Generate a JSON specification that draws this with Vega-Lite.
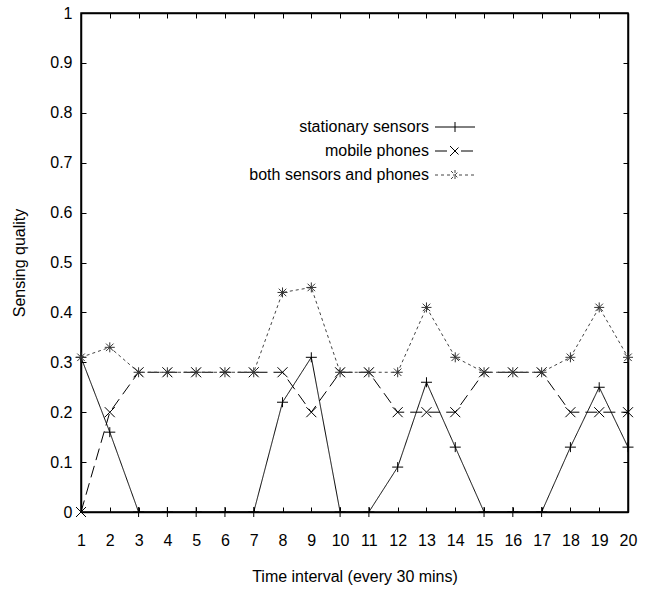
{
  "$schema": "https://vega.github.io/schema/vega-lite/v6.json",
  "width": 547,
  "height": 499,
  "autosize": "none",
  "padding": {"left": 81, "top": 13, "right": 26, "bottom": 79},
  "background": "white",
  "config": {"view": {"stroke": "black", "strokeWidth": 1.5}, "font": "Liberation Sans"},
  "data": {"values": [
    {"t":1,"q":0.31,"series":"stationary sensors"},{"t":2,"q":0.16,"series":"stationary sensors"},{"t":3,"q":0,"series":"stationary sensors"},{"t":4,"q":0,"series":"stationary sensors"},{"t":5,"q":0,"series":"stationary sensors"},{"t":6,"q":0,"series":"stationary sensors"},{"t":7,"q":0,"series":"stationary sensors"},{"t":8,"q":0.22,"series":"stationary sensors"},{"t":9,"q":0.31,"series":"stationary sensors"},{"t":10,"q":0,"series":"stationary sensors"},{"t":11,"q":0,"series":"stationary sensors"},{"t":12,"q":0.09,"series":"stationary sensors"},{"t":13,"q":0.26,"series":"stationary sensors"},{"t":14,"q":0.13,"series":"stationary sensors"},{"t":15,"q":0,"series":"stationary sensors"},{"t":16,"q":0,"series":"stationary sensors"},{"t":17,"q":0,"series":"stationary sensors"},{"t":18,"q":0.13,"series":"stationary sensors"},{"t":19,"q":0.25,"series":"stationary sensors"},{"t":20,"q":0.13,"series":"stationary sensors"},
    {"t":1,"q":0,"series":"mobile phones"},{"t":2,"q":0.2,"series":"mobile phones"},{"t":3,"q":0.28,"series":"mobile phones"},{"t":4,"q":0.28,"series":"mobile phones"},{"t":5,"q":0.28,"series":"mobile phones"},{"t":6,"q":0.28,"series":"mobile phones"},{"t":7,"q":0.28,"series":"mobile phones"},{"t":8,"q":0.28,"series":"mobile phones"},{"t":9,"q":0.2,"series":"mobile phones"},{"t":10,"q":0.28,"series":"mobile phones"},{"t":11,"q":0.28,"series":"mobile phones"},{"t":12,"q":0.2,"series":"mobile phones"},{"t":13,"q":0.2,"series":"mobile phones"},{"t":14,"q":0.2,"series":"mobile phones"},{"t":15,"q":0.28,"series":"mobile phones"},{"t":16,"q":0.28,"series":"mobile phones"},{"t":17,"q":0.28,"series":"mobile phones"},{"t":18,"q":0.2,"series":"mobile phones"},{"t":19,"q":0.2,"series":"mobile phones"},{"t":20,"q":0.2,"series":"mobile phones"},
    {"t":1,"q":0.31,"series":"both sensors and phones"},{"t":2,"q":0.33,"series":"both sensors and phones"},{"t":3,"q":0.28,"series":"both sensors and phones"},{"t":4,"q":0.28,"series":"both sensors and phones"},{"t":5,"q":0.28,"series":"both sensors and phones"},{"t":6,"q":0.28,"series":"both sensors and phones"},{"t":7,"q":0.28,"series":"both sensors and phones"},{"t":8,"q":0.44,"series":"both sensors and phones"},{"t":9,"q":0.45,"series":"both sensors and phones"},{"t":10,"q":0.28,"series":"both sensors and phones"},{"t":11,"q":0.28,"series":"both sensors and phones"},{"t":12,"q":0.28,"series":"both sensors and phones"},{"t":13,"q":0.41,"series":"both sensors and phones"},{"t":14,"q":0.31,"series":"both sensors and phones"},{"t":15,"q":0.28,"series":"both sensors and phones"},{"t":16,"q":0.28,"series":"both sensors and phones"},{"t":17,"q":0.28,"series":"both sensors and phones"},{"t":18,"q":0.31,"series":"both sensors and phones"},{"t":19,"q":0.41,"series":"both sensors and phones"},{"t":20,"q":0.31,"series":"both sensors and phones"}
  ]},
  "layer": [
    {
      "mark": {"type": "line", "strokeWidth": 1},
      "encoding": {
        "x": {"field": "t", "type": "quantitative",
          "scale": {"domain": [1, 20], "nice": false, "zero": false},
          "axis": {"orient": "bottom", "values": [1,2,3,4,5,6,7,8,9,10,11,12,13,14,15,16,17,18,19,20],
            "title": "Time interval (every 30 mins)", "grid": false, "tickSize": -5, "labelPadding": 25, "labelFlush": false, "labelOverlap": false,
            "labelFontSize": 16, "labelFont": "Liberation Sans", "titleFontSize": 16, "titleFont": "Liberation Sans", "titleFontWeight": "normal", "titlePadding": 20,
            "domainColor": "black", "domainWidth": 1.5, "tickColor": "black", "labelColor": "black", "titleColor": "black"}},
        "y": {"field": "q", "type": "quantitative",
          "scale": {"domain": [0, 1], "nice": false},
          "axis": {"orient": "left", "values": [0,0.1,0.2,0.3,0.4,0.5,0.6,0.7,0.8,0.9,1], "format": "~g",
            "title": "Sensing quality", "grid": false, "tickSize": -5, "labelPadding": 14, "labelFlush": false, "labelOverlap": false,
            "labelFontSize": 16, "labelFont": "Liberation Sans", "titleFontSize": 16, "titleFont": "Liberation Sans", "titleFontWeight": "normal", "titlePadding": 22,
            "domainColor": "black", "domainWidth": 1.5, "tickColor": "black", "labelColor": "black", "titleColor": "black"}},
        "strokeDash": {"field": "series", "type": "nominal",
          "scale": {"domain": ["stationary sensors", "mobile phones", "both sensors and phones"], "range": [[1, 0], [12, 6], [3, 3]]},
          "legend": {"title": null, "orient": "none", "legendX": 366, "legendY": 106, "labelAlign": "right", "labelOffset": -34, "labelLimit": 0,
            "labelFontSize": 16, "labelFont": "Liberation Sans", "labelColor": "black", "symbolSize": 100, "symbolStrokeWidth": 1, "rowPadding": 8,
            "encode": {"symbols": {"update": {"shape": {"signal": "datum.value === 'stationary sensors' ? 'M-4,0L4,0M0,-1L0,1' : datum.value === 'mobile phones' ? 'M-4,0L-1.2,0M1.2,0L4,0M-1,-1L1,1M-1,1L1,-1' : 'M-4,0L4,0M0,-1L0,1M-0.8,-0.8L0.8,0.8M-0.8,0.8L0.8,-0.8'"}}}}}},
        "color": {"field": "series", "type": "nominal",
          "scale": {"domain": ["stationary sensors", "mobile phones", "both sensors and phones"], "range": ["black", "black", "#444444"]},
          "legend": {"title": null, "orient": "none", "legendX": 366, "legendY": 106, "labelAlign": "right", "labelOffset": -34, "labelLimit": 0,
            "labelFontSize": 16, "labelFont": "Liberation Sans", "labelColor": "black", "symbolSize": 100, "symbolStrokeWidth": 1, "rowPadding": 8,
            "encode": {"symbols": {"update": {"shape": {"signal": "datum.value === 'stationary sensors' ? 'M-4,0L4,0M0,-1L0,1' : datum.value === 'mobile phones' ? 'M-4,0L-1.2,0M1.2,0L4,0M-1,-1L1,1M-1,1L1,-1' : 'M-4,0L4,0M0,-1L0,1M-0.8,-0.8L0.8,0.8M-0.8,0.8L0.8,-0.8'"}}}}}}
      }
    },
    {
      "transform": [{"filter": "datum.series === 'stationary sensors'"}],
      "mark": {"type": "point", "filled": false, "size": 100, "strokeWidth": 1, "opacity": 1, "stroke": "black", "shape": "M-1.1,0L1.1,0M0,-1L0,1"},
      "encoding": {
        "x": {"field": "t", "type": "quantitative",
          "axis": {"orient": "top", "values": [1,2,3,4,5,6,7,8,9,10,11,12,13,14,15,16,17,18,19,20], "labels": false, "title": null, "grid": false, "tickSize": -5, "domainColor": "black", "domainWidth": 1.5, "tickColor": "black"}},
        "y": {"field": "q", "type": "quantitative",
          "axis": {"orient": "right", "values": [0,0.1,0.2,0.3,0.4,0.5,0.6,0.7,0.8,0.9,1], "labels": false, "title": null, "grid": false, "tickSize": -5, "domainColor": "black", "domainWidth": 1.5, "tickColor": "black"}}
      }
    },
    {
      "transform": [{"filter": "datum.series === 'mobile phones'"}],
      "mark": {"type": "point", "filled": false, "size": 100, "strokeWidth": 1, "opacity": 1, "stroke": "black", "shape": "M-1,-1L1,1M-1,1L1,-1"},
      "encoding": {
        "x": {"field": "t", "type": "quantitative", "axis": null},
        "y": {"field": "q", "type": "quantitative", "axis": null}
      }
    },
    {
      "transform": [{"filter": "datum.series === 'both sensors and phones'"}],
      "mark": {"type": "point", "filled": false, "size": 100, "strokeWidth": 1, "opacity": 1, "stroke": "#333333", "shape": "M-1,0L1,0M0,-1L0,1M-0.75,-0.75L0.75,0.75M-0.75,0.75L0.75,-0.75"},
      "encoding": {
        "x": {"field": "t", "type": "quantitative", "axis": null},
        "y": {"field": "q", "type": "quantitative", "axis": null}
      }
    }
  ],
  "resolve": {"axis": {"x": "independent", "y": "independent"}}
}
